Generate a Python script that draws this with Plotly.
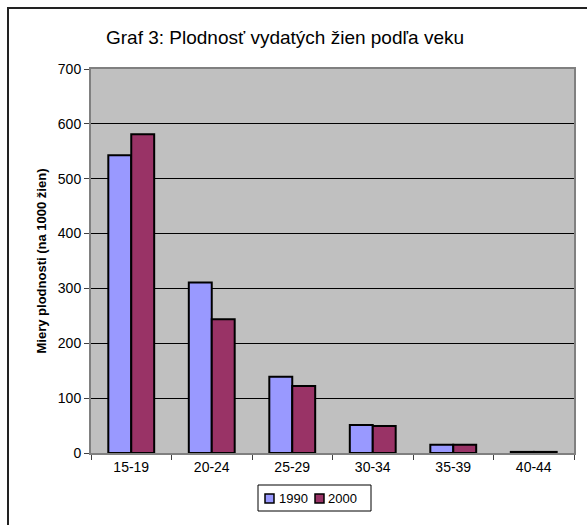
import plotly.graph_objects as go

categories = ["15-19", "20-24", "25-29", "30-34", "35-39", "40-44"]
series_names = ["1990", "2000"]
values_1990 = [543, 311, 139, 51, 15, 2]
values_2000 = [581, 244, 122, 49, 15, 2]
y_ticks = [0, 100, 200, 300, 400, 500, 600, 700]
colors = ["#9999FF", "#993366"]

FONT = "Liberation Sans, Arial, sans-serif"

fig = go.Figure()
for name, vals, col in zip(series_names, [values_1990, values_2000], colors):
    fig.add_trace(go.Bar(name=name, x=categories, y=vals,
                         marker=dict(color=col, line=dict(color="black", width=2))))

# pixel -> paper helpers (plot area: x 91..574, y 69..453)
def px(x):
    return (x - 91) / 483

def py(y):
    return (453 - y) / 384

shapes = [dict(type="rect", xref="paper", yref="paper",
               x0=px(8), x1=1.1, y0=-0.3, y1=py(8),
               line=dict(color="#222222", width=2), fillcolor="rgba(0,0,0,0)", layer="below"),
          dict(type="rect", xref="paper", yref="paper",
               x0=px(258), x1=px(371), y0=py(511), y1=py(485),
               line=dict(color="black", width=1), fillcolor="white", layer="above")]
annotations = []
sq_x = [265, 315]
tx_x = [277, 326]
for name, col, sx, tx in zip(series_names, colors, sq_x, tx_x):
    shapes.append(dict(type="rect", xref="paper", yref="paper",
                       x0=px(sx), x1=px(sx + 9), y0=py(503), y1=py(494),
                       line=dict(color="black", width=1.5), fillcolor=col, layer="above"))
    annotations.append(dict(text=name, xref="paper", yref="paper", x=px(tx), y=py(498.5),
                            xanchor="left", yanchor="middle", showarrow=False,
                            font=dict(family=FONT, size=13, color="black")))

fig.update_layout(
    width=587, height=525,
    margin=dict(l=91, r=13, t=69, b=72),
    paper_bgcolor="white",
    plot_bgcolor="#C0C0C0",
    barmode="group",
    bargap=0.43,
    bargroupgap=0,
    font=dict(family=FONT, size=13, color="black"),
    title=dict(text="Graf 3: Plodnosť vydatých žien podľa veku",
               font=dict(family=FONT, size=19, color="black"),
               x=285 / 587, xref="container", xanchor="center",
               y=1 - 37 / 525, yref="container", yanchor="middle"),
    showlegend=False,
    xaxis=dict(type="category", showline=True, linecolor="#808080", linewidth=2, mirror=True,
               ticks="outside", tickson="boundaries", ticklen=5, tickcolor="#404040",
               showgrid=False, tickfont=dict(size=14)),
    yaxis=dict(range=[0, 700], tickvals=y_ticks, showline=True, linecolor="#808080",
               linewidth=2, mirror=True, ticks="outside", ticklen=5, tickcolor="#404040",
               showgrid=True, gridcolor="black", gridwidth=1, zeroline=False,
               tickfont=dict(size=14),
               title=dict(text="<b>Miery plodnosti (na 1000 žien)</b>",
                          font=dict(family=FONT, size=13), standoff=8)),
    shapes=shapes,
    annotations=annotations,
)

fig.write_html("out.html", config={"displayModeBar": False},
               post_script="document.body.style.margin='0';document.body.style.overflow='hidden';")
